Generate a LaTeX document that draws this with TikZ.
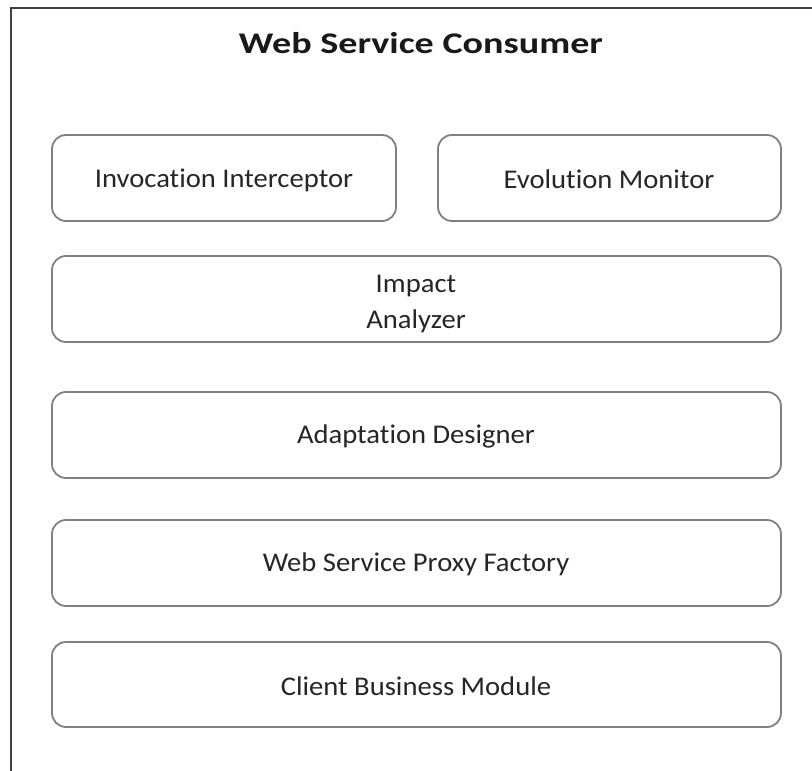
\documentclass[tikz,border=0pt]{standalone}
\usepackage{fontspec}
\setmainfont{Carlito}
\newfontfamily\lblfont[FakeStretch=1.06,Ligatures=NoCommon]{Carlito}
\newfontfamily\titlefont[FakeStretch=1.27,Ligatures=NoCommon]{Carlito}
\begin{document}
\begin{tikzpicture}[x=1pt,y=-1pt,
  comp/.style={draw=black!50,line width=1.8pt,rounded corners=14pt,fill=white},
  lbl/.style={font=\lblfont\fontsize{27}{36}\selectfont,text=black!85,align=center},
  frame/.style={draw=black!75,line width=2.2pt}]
\useasboundingbox (0,0) rectangle (812,771);
\draw[frame] (11,780) -- (11,8) -- (820,8);
\node[font=\titlefont\bfseries\fontsize{30}{36}\selectfont,text=black!90] (title) at (421,43) {Web Service Consumer};
\draw[comp] (52,135) rectangle (396,221);
\node[lbl] (ii) at (224,180) {Invocation Interceptor};
\draw[comp] (438,135) rectangle (781,221);
\node[lbl] (em) at (609,179) {Evolution Monitor};
\draw[comp] (52,256) rectangle (781,342);
\node[lbl] (ia) at (416,304) {Impact\\Analyzer};
\draw[comp] (52,392) rectangle (781,478);
\node[lbl] (ad) at (416,436) {Adaptation Designer};
\draw[comp] (52,520) rectangle (781,606);
\node[lbl] (pf) at (416,564) {Web Service Proxy Factory};
\draw[comp] (52,642) rectangle (781,727);
\node[lbl] (cb) at (416,686) {Client Business Module};
\end{tikzpicture}
\end{document}
